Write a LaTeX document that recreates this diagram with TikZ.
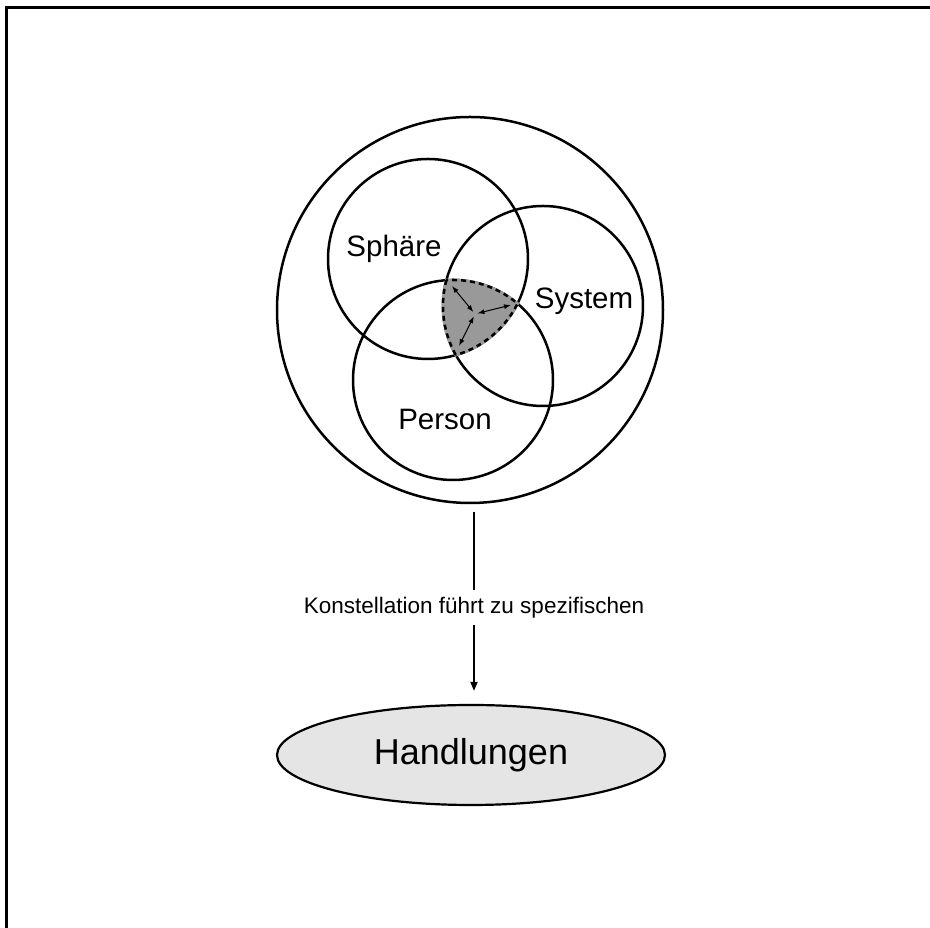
\documentclass[tikz,border=0pt]{standalone}
\usepackage{fontspec}
\setmainfont{Liberation Sans}
\usetikzlibrary{shapes.geometric,arrows.meta}
\tikzset{
  kreis/.style={line width=2.5pt},
  grenze/.style={line width=2.5pt, dash pattern=on 5pt off 4pt},
  pfeil/.style={line width=1pt, {Latex[length=7pt,width=5pt]}-{Latex[length=7pt,width=5pt]}},
  beschriftung/.style={anchor=base, inner sep=0pt, font=\fontsize{29.5}{35}\selectfont},
}
\begin{document}
\begin{tikzpicture}[x=1pt,y=1pt]
  \useasboundingbox (0,0) rectangle (930,928);
  % Rahmen
  \draw[line width=3pt] (930,920) -- (6,920) -- (6,0);
  % Mittelpunkte der drei Kreise
  \coordinate (sph) at (428,669);
  \coordinate (sys) at (543,622);
  \coordinate (per) at (453,548);
  % Kreise
  \node[circle, draw, kreis, minimum size=386pt, inner sep=0pt] (umwelt) at (470,618) {};
  \draw[kreis] (sph) circle[radius=100];
  \draw[kreis] (sys) circle[radius=100];
  \draw[kreis] (per) circle[radius=100];
  % Schnittmenge
  \begin{scope}
    \clip (sph) circle[radius=101.5];
    \clip (sys) circle[radius=101.5];
    \fill[black!40] (per) circle[radius=101.5];
  \end{scope}
  \begin{scope}
    \clip (sys) circle[radius=100.5];
    \clip (per) circle[radius=100.5];
    \draw[grenze] (sph) circle[radius=100];
  \end{scope}
  \begin{scope}
    \clip (sph) circle[radius=100.5];
    \clip (per) circle[radius=100.5];
    \draw[grenze] (sys) circle[radius=100];
  \end{scope}
  \begin{scope}
    \clip (sph) circle[radius=100.5];
    \clip (sys) circle[radius=100.5];
    \draw[grenze] (per) circle[radius=100];
  \end{scope}
  % Pfeile in der Schnittmenge
  \coordinate (mitte) at (475,614);
  \coordinate (ecke1) at (452,642);
  \coordinate (ecke2) at (511,623);
  \coordinate (ecke3) at (459,582);
  \draw[pfeil, shorten <=2.5pt] (mitte) -- (ecke1);
  \draw[pfeil, shorten <=2.5pt] (mitte) -- (ecke2);
  \draw[pfeil, shorten <=2.5pt] (mitte) -- (ecke3);
  % Beschriftungen
  \node[beschriftung] (sphaere) at (394,671) {Sphäre};
  \node[beschriftung] (system) at (584,619) {System};
  \node[beschriftung] (person) at (445,498) {Person};
  % Handlungen
  \node[ellipse, draw, line width=2.2pt, fill=black!10, minimum width=388pt, minimum height=100pt,
        font=\fontsize{36}{40}\selectfont] (handlungen) at (471,173) {Handlungen};
  \coordinate (start) at (474,416);
  \draw[line width=1.8pt, -{Triangle[length=9pt,width=7pt]}, shorten >=13pt]
    (start) -- (start |- handlungen.north)
    node[midway, fill=white, inner sep=7pt, font=\fontsize{22.5}{27}\selectfont] (konst) {Konstellation führt zu spezifischen};
\end{tikzpicture}
\end{document}
